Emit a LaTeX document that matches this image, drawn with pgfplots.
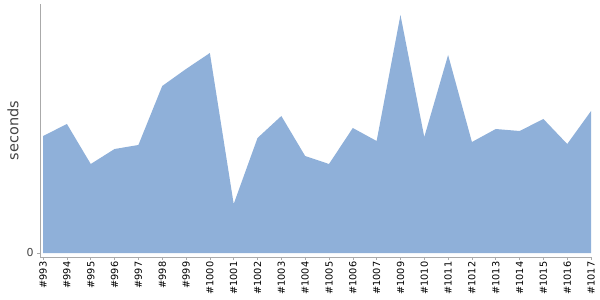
\documentclass[border=0pt]{standalone}
\usepackage{pgfplots}
\pgfplotsset{compat=1.18}
\usepackage{fontspec}
\setmainfont{DejaVu Sans}
\definecolor{areablue}{HTML}{8FB0D9}
\definecolor{axgray}{HTML}{AAAAAA}
\definecolor{txtgray}{HTML}{444444}
\begin{document}
\begin{tikzpicture}
\path[use as bounding box] (-40bp,-43bp) rectangle (560bp,257bp);
\begin{axis}[
  at={(0,0)}, anchor=south west,
  scale only axis,
  width=552bp, height=253bp,
  xmin=-0.13, xmax=23.04,
  ymin=-4, ymax=249,
  axis lines*=left,
  axis line style={axgray, line width=0.8pt},
  every outer x axis line/.append style={-},
  every outer y axis line/.append style={-},
  xtick={0,...,23},
  xticklabels={\#993,\#994,\#995,\#996,\#997,\#998,\#999,\#1000,\#1001,\#1002,\#1003,\#1004,\#1005,\#1006,\#1007,\#1009,\#1010,\#1011,\#1012,\#1013,\#1014,\#1015,\#1016,\#1017},
  x tick label style={rotate=90, anchor=east, font=\fontsize{9.8}{11}\selectfont, text=black, inner sep=1.5pt},
  ytick={0},
  y tick label style={font=\fontsize{11}{12}\selectfont, text=txtgray},
  tick align=outside,
  major tick length=3bp,
  tick style={axgray, line width=0.6pt},
  ylabel={seconds},
  ylabel style={font=\fontsize{14.5}{16}\selectfont, text=txtgray, at={(axis description cs:0,0.5)}, anchor=south, yshift=18bp},
  /pgf/number format/assume math mode=true,
  clip=false,
]
\addplot[draw=none, fill=areablue] coordinates {
(0,117) (1,129) (2,89) (3,104) (4,108) (5,167) (6,184) (7,200)
(8,49) (9,115) (10,137) (11,97) (12,89) (13,125) (14,112) (15,238)
(16,116) (17,198) (18,111) (19,124) (20,122) (21,134) (22,109) (23,142)
} \closedcycle;
\end{axis}
\end{tikzpicture}
\end{document}
